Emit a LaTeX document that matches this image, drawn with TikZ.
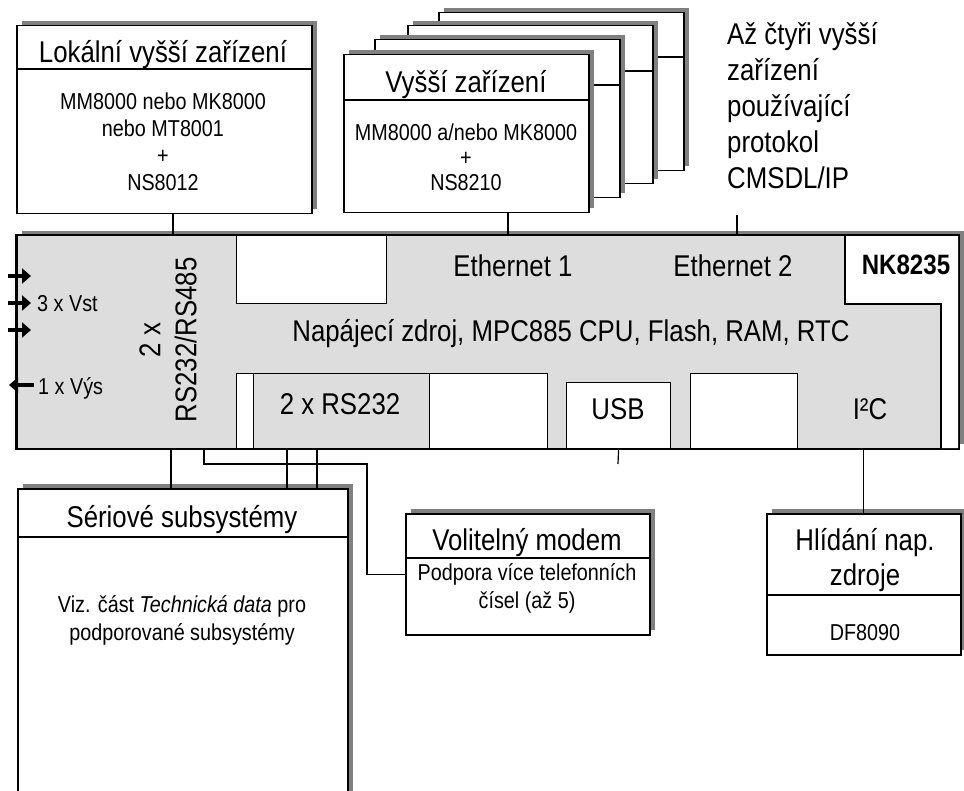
\documentclass[tikz,border=0pt]{standalone}
\usepackage{fontspec}
\setmainfont{Liberation Sans}[FakeStretch=0.86]
\usetikzlibrary{positioning,arrows.meta,shadows,calc}
\definecolor{panelgray}{RGB}{221,221,221}
\definecolor{shadowgray}{RGB}{128,128,128}
\newcommand{\bigfont}{\fontsize{30}{36}\selectfont}
\newcommand{\smallfont}{\fontsize{23}{28}\selectfont}
\tikzset{
  box/.style={draw, line width=1.5pt, fill=white, inner sep=0pt, anchor=north west,
              drop shadow={shadow xshift=5pt, shadow yshift=5pt, fill=shadowgray, opacity=1}},
  slot/.style={draw, line width=1.2pt, fill=white, inner sep=0pt, anchor=north west},
  graybox/.style={slot, fill=panelgray},
  title/.style={anchor=base, inner sep=0pt, font=\bigfont, align=center},
  label/.style={anchor=base, inner sep=0pt, font=\smallfont, align=center},
  wire/.style={line width=1.2pt},
  pin/.style={line width=3.5pt, -{Triangle[length=9pt, width=15pt]}},
}

\begin{document}
\begin{tikzpicture}[x=1pt, y=-1pt]
  \useasboundingbox (0,0) rectangle (964,791);
  \clip (0,0) rectangle (964,791);

  % local device
  \node[box, minimum width=295pt, minimum height=188pt] (lok) at (16,25) {};
  \draw[wire] (lok.west |- 0,69) -- (lok.east |- 0,69);
  \node[title] (lokT) at (163,63) {Lokální vyšší zařízení};
  \node[label, font=\fontsize{23}{27}\selectfont] (lokB) at (163,191)
    {MM8000 nebo MK8000\\nebo MT8001\\+\\NS8012};

  % up to four remote devices (back to front)
  \node[box, minimum width=245pt, minimum height=158pt] (hi4) at (438,12) {};
  \draw[wire] (hi4.west |- 0,57) -- (hi4.east |- 0,57);
  \node[box, minimum width=245pt, minimum height=158pt] (hi3) at (407,25) {};
  \draw[wire] (hi3.west |- 0,71) -- (hi3.east |- 0,71);
  \node[box, minimum width=245pt, minimum height=158pt] (hi2) at (374,39) {};
  \draw[wire] (hi2.west |- 0,85) -- (hi2.east |- 0,85);
  \node[box, minimum width=245pt, minimum height=158pt] (hi1) at (343,54) {};
  \draw[wire] (hi1.west |- 0,100) -- (hi1.east |- 0,100);
  \node[title] (hi1T) at (466,93) {Vyšší zařízení};
  \node[label, font=\fontsize{23}{25}\selectfont] (hi1B) at (466,191)
    {MM8000 a/nebo MK8000\\+\\NS8210};

  \node[anchor=base west, inner sep=0pt, font=\bigfont, align=left] (note) at (727,189)
    {Až čtyři vyšší\\zařízení\\používající\\protokol\\CMSDL/IP};
  \coordinate (noteend) at (737,215);

  % NK8235 main board
  \node[box, fill=panelgray, minimum width=942pt, minimum height=213pt] (nk) at (16,235) {};
  \fill[white] (845,235) -- (958,235) -- (958,448) -- (941,448) -- (941,304) -- (845,304) -- cycle;
  \draw[wire] (845,235) -- (845,304) -- (941,304) -- (941,448);
  \node[slot, minimum width=150pt, minimum height=68pt] (eth) at (236,235) {};
  \node[slot, minimum width=311pt, minimum height=75pt] (serslot) at (236,373) {};
  \node[graybox, minimum width=176pt, minimum height=75pt] (rs232) at (253,373) {};
  \node[slot, minimum width=104pt, minimum height=66pt] (usb) at (566,382) {};
  \node[slot, minimum width=107pt, minimum height=75pt] (spare) at (690,373) {};
  \draw[line width=1.5pt] (nk.north west) rectangle (nk.south east);

  \node[title] (eth1) at (513,277) {Ethernet 1};
  \node[title] (eth2) at (733,277) {Ethernet 2};
  \node[anchor=base, inner sep=0pt, font=\fontsize{28}{32}\bfseries] (nkT) at (906,275) {NK8235};
  \node[title] (cpu) at (571,342) {Napájecí zdroj, MPC885 CPU, Flash, RAM, RTC};
  \node[title, anchor=center, rotate=90] (rs485) at (168,340) {2 x\\RS232/RS485};
  \node[title] (rs232T) at (340,415) {2 x RS232};
  \node[title] (usbT) at (618,420) {USB};
  \node[title] (i2cT) at (870,420) {I²C};

  % digital inputs and output
  \coordinate (inA) at (8,276);
  \coordinate (inB) at (8,303);
  \coordinate (inC) at (8,330);
  \coordinate (outA) at (34,385);
  \draw[pin] (inA) -- ++(23,0);
  \draw[pin] (inB) -- ++(23,0);
  \draw[pin] (inC) -- ++(23,0);
  \draw[pin] (outA) -- ++(-25,0);
  \node[label, anchor=base west] (vst) at (37,312) {3 x Vst};
  \node[label, anchor=base west] (vys) at (38,395) {1 x Výs};

  % serial subsystems
  \node[box, minimum width=330pt, minimum height=340pt] (ser) at (17,488) {};
  \draw[wire] (ser.west |- 0,537) -- (ser.east |- 0,537);
  \node[title] (serT) at (182,527) {Sériové subsystémy};
  \node[label] (serB) at (182,640)
    {Viz. část \textit{Technická data} pro\\podporované subsystémy};

  % optional modem
  \node[box, minimum width=244pt, minimum height=121pt] (mod) at (405,513) {};
  \draw[wire] (mod.west |- 0,558) -- (mod.east |- 0,558);
  \node[title] (modT) at (527,550) {Volitelný modem};
  \node[label] (modB) at (527,608) {Podpora více telefonních\\čísel (až 5)};

  % power supply monitor
  \node[box, minimum width=194pt, minimum height=141pt] (hlid) at (766,513) {};
  \draw[wire] (hlid.west |- 0,595) -- (hlid.east |- 0,595);
  \node[title, font=\fontsize{30}{35}\selectfont] (hlidT) at (865,585) {Hlídání nap.\\zdroje};
  \node[label] (hlidB) at (865,640) {DF8090};
  \coordinate (usbend) at (618,464);

  % connections
  \draw[wire] (lok.south -| 173,0) -- (nk.north -| 173,0);
  \draw[wire] (hi1.south -| 508,0) -- (nk.north -| 508,0);
  \draw[wire] (noteend) -- (nk.north -| noteend);
  \draw[wire] (nk.south -| 171,0) -- (ser.north -| 171,0);
  \draw[wire] (nk.south -| 287,0) -- (ser.north -| 287,0);
  \draw[wire] (nk.south -| 317,0) -- (ser.north -| 317,0);
  \draw[wire] (nk.south -| 204,0) |- (367,464) |- (mod.west);
  \draw[wire] (usb.south) -- (usbend);
  \draw[wire] (nk.south -| hlid.north) -- (hlid.north);
\end{tikzpicture}
\end{document}
